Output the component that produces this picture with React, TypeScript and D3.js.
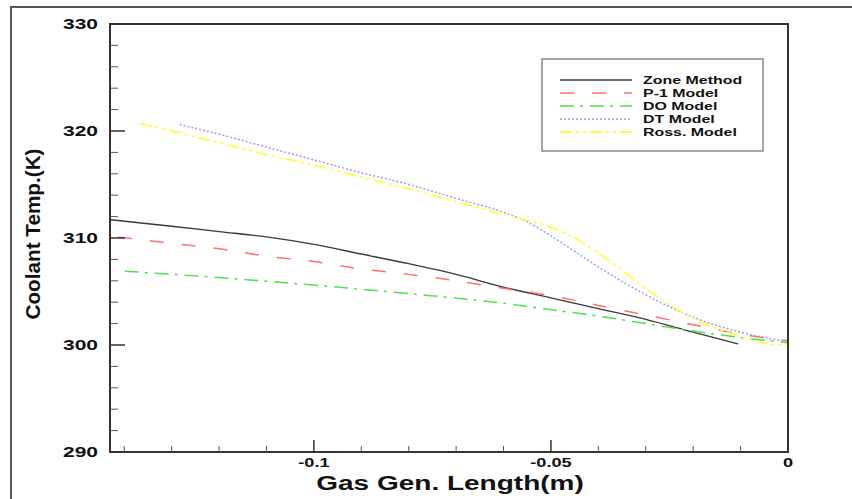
import React from 'react';
import * as d3 from 'd3';

// values: [x (m), coolant temp (K)]
const zoneMethod: [number, number][] = [
  [-0.1428, 311.7], [-0.13, 311.1], [-0.12, 310.6], [-0.11, 310.1], [-0.1, 309.4],
  [-0.09, 308.5], [-0.08, 307.6], [-0.07, 306.6], [-0.06, 305.4], [-0.05, 304.4],
  [-0.04, 303.4], [-0.03, 302.4], [-0.02, 301.2], [-0.0105, 300.1],
];
const p1Model: [number, number][] = [
  [-0.1413, 310.1], [-0.13, 309.5], [-0.12, 309.0], [-0.11, 308.3], [-0.1, 307.8],
  [-0.09, 307.1], [-0.08, 306.6], [-0.07, 306.0], [-0.06, 305.3], [-0.05, 304.6],
  [-0.04, 303.7], [-0.03, 302.8], [-0.02, 301.9], [-0.01, 301.0], [0, 300.4],
];
const doModel: [number, number][] = [
  [-0.1399, 306.9], [-0.12, 306.3], [-0.1, 305.6], [-0.08, 304.8], [-0.06, 303.9],
  [-0.05, 303.3], [-0.04, 302.7], [-0.03, 302.0], [-0.02, 301.3], [-0.01, 300.7], [0, 300.2],
];
const dtModel: [number, number][] = [
  [-0.1283, 320.6], [-0.12, 319.7], [-0.11, 318.5], [-0.1, 317.3], [-0.09, 316.1],
  [-0.08, 315.0], [-0.07, 313.7], [-0.06, 312.4], [-0.055, 311.5], [-0.05, 310.2],
  [-0.04, 307.3], [-0.03, 304.7], [-0.02, 302.6], [-0.01, 301.2], [0, 300.3],
];
const rossModel: [number, number][] = [
  [-0.1367, 320.7], [-0.13, 320.0], [-0.12, 318.9], [-0.11, 317.8], [-0.1, 316.8],
  [-0.09, 315.7], [-0.08, 314.6], [-0.07, 313.4], [-0.06, 312.2], [-0.05, 311.0],
  [-0.045, 310.0], [-0.04, 308.6], [-0.035, 307.0], [-0.03, 305.3], [-0.02, 302.5],
  [-0.01, 300.8], [-0.005, 300.2], [0, 300.0],
];

const seriesNames = ['Zone Method', 'P-1 Model', 'DO Model', 'DT Model', 'Ross. Model'];
const xMajor = [-0.1, -0.05, 0];
const xMajorLabels = ['-0.1', '-0.05', '0'];
const yMajor = [290, 300, 310, 320, 330];

const W = 852, H = 499;
const FONT = "'Liberation Sans', Arial, sans-serif";

function ST({ x, y, sx = 1.4, size, anchor = 'start', children }: any) {
  return (
    <text transform={`translate(${x},${y}) scale(${sx},1)`} fontSize={size} fontWeight="bold"
      fontFamily={FONT} textAnchor={anchor} fill="#111">{children}</text>
  );
}

export default function App() {
  const x = d3.scaleLinear().domain([-0.143, 0]).range([110, 788]);
  const y = d3.scaleLinear().domain([290, 330]).range([452, 24]);
  const line = d3.line<[number, number]>().x(d => x(d[0])).y(d => y(d[1])).curve(d3.curveMonotoneX);

  const styles = [
    { data: zoneMethod, color: '#3a3a3a', dash: null, w: 1.4 },
    { data: p1Model, color: '#ff7070', dash: '14,18', w: 1.5 },
    { data: doModel, color: '#50e050', dash: '14,6,3,7', w: 1.5 },
    { data: dtModel, color: '#9a9aff', dash: '2,2', w: 1.5 },
    { data: rossModel, color: '#ffff40', dash: '12,4,3,4,3,4', w: 1.8 },
  ];

  const yMinor = d3.range(290, 330.1, 2).filter(v => v % 10 !== 0);
  const xMinor = d3.range(-14, 0).map(v => v / 100).filter(v => Math.abs(v + 0.1) > 1e-9 && Math.abs(v + 0.05) > 1e-9);

  return (
    <svg width={W} height={H} style={{ position: 'absolute', left: 0, top: 0, background: '#fff' }}>
      <rect x={11} y={7} width={900} height={600} fill="none" stroke="#555" strokeWidth={2} />

      {styles.map((s, i) => (
        <path key={i} d={line(s.data) || ''} fill="none" stroke={s.color} strokeWidth={s.w}
          strokeDasharray={s.dash || undefined} />
      ))}

      {/* axes box + inward ticks */}
      <rect x={110} y={24} width={678} height={428} fill="none" stroke="#333" strokeWidth={2} />
      {yMajor.map(v => <line key={'ym' + v} x1={110} x2={125} y1={y(v)} y2={y(v)} stroke="#333" strokeWidth={1.5} />)}
      {yMinor.map(v => <line key={'yn' + v} x1={110} x2={118} y1={y(v)} y2={y(v)} stroke="#555" strokeWidth={1} />)}
      {xMajor.map(v => <line key={'xm' + v} x1={x(v)} x2={x(v)} y1={452} y2={440} stroke="#333" strokeWidth={1.5} />)}
      {xMinor.map(v => <line key={'xn' + v} x1={x(v)} x2={x(v)} y1={452} y2={446} stroke="#555" strokeWidth={1} />)}

      {yMajor.map(v => <ST key={'yl' + v} x={98} y={y(v) + 5} size={15} anchor="end">{v}</ST>)}
      {xMajor.map((v, i) => <ST key={'xl' + v} x={x(v)} y={467} size={13} anchor="middle">{xMajorLabels[i]}</ST>)}

      <ST x={450} y={490} size={20} sx={1.4} anchor="middle">Gas Gen. Length(m)</ST>
      <text transform="translate(40,234) scale(1.15,1) rotate(-90)" fontSize={18} fontWeight="bold"
        fontFamily={FONT} textAnchor="middle" textLength={171} lengthAdjust="spacingAndGlyphs" fill="#111">
        Coolant Temp.(K)
      </text>

      {/* legend */}
      <rect x={542} y={59} width={221} height={92} fill="#fff" stroke="#888" strokeWidth={1.5} />
      {seriesNames.map((n, i) => {
        const ly = 80 + i * 13;
        const s = styles[i];
        return (
          <g key={n}>
            <line x1={560} x2={632} y1={ly} y2={ly} stroke={s.color} strokeWidth={s.w}
              strokeDasharray={s.dash || undefined} />
            <ST x={643} y={ly + 4} size={11} sx={1.45}>{n}</ST>
          </g>
        );
      })}
    </svg>
  );
}
